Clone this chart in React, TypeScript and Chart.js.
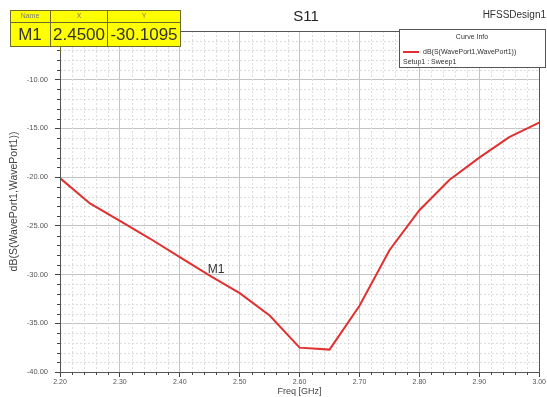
import { useEffect, useRef } from "react";
import { Chart, registerables } from "chart.js";

Chart.register(...registerables);

const freqs = [2.2, 2.25, 2.3, 2.35, 2.4, 2.45, 2.5, 2.55, 2.6, 2.65, 2.7, 2.75, 2.8, 2.85, 2.9, 2.95, 3.0];
const s11 = [-20.1, -22.7, -24.5, -26.3, -28.2, -30.1, -31.9, -34.2, -37.5, -37.7, -33.2, -27.5, -23.4, -20.3, -18.0, -15.9, -14.4];

const markerName = "M1";
const markerX = 2.45;
const markerY = -30.1095;

const titleText = "S11";
const designText = "HFSSDesign1";
const legendTitle = "Curve Info";
const seriesName = "dB(S(WavePort1,WavePort1))";
const setupName = "Setup1 : Sweep1";
const xTitle = "Freq [GHz]";
const yTitle = "dB(S(WavePort1,WavePort1))";

const FONT = "'Liberation Sans', Arial, sans-serif";

const overlayPlugin = {
  id: "overlay",
  beforeDatasetsDraw(chart: any) {
    const { ctx, chartArea: a, scales } = chart;
    const xs = scales.x;
    const ys = scales.y;
    ctx.save();
    // minor grid dotted
    ctx.strokeStyle = "#dddddd";
    ctx.lineWidth = 1;
    ctx.setLineDash([2, 2]);
    for (let i = 0; i <= 40; i++) {
      if (i % 5 === 0) continue;
      const v = 2.2 + i * 0.02;
      const px = Math.round(xs.getPixelForValue(v)) + 0.5;
      ctx.beginPath();
      ctx.moveTo(px, a.top);
      ctx.lineTo(px, a.bottom);
      ctx.stroke();
    }
    for (let v = -40; v <= -5; v++) {
      if (v % 5 === 0) continue;
      const py = Math.round(ys.getPixelForValue(v)) + 0.5;
      ctx.beginPath();
      ctx.moveTo(a.left, py);
      ctx.lineTo(a.right, py);
      ctx.stroke();
    }
    ctx.setLineDash([]);
    // minor ticks
    ctx.strokeStyle = "#444";
    for (let i = 0; i <= 40; i++) {
      if (i % 5 === 0) continue;
      const v = 2.2 + i * 0.02;
      const px = Math.round(xs.getPixelForValue(v)) + 0.5;
      ctx.beginPath();
      ctx.moveTo(px, a.bottom);
      ctx.lineTo(px, a.bottom + 3);
      ctx.stroke();
    }
    for (let v = -40; v <= -5; v++) {
      if (v % 5 === 0) continue;
      const py = Math.round(ys.getPixelForValue(v)) + 0.5;
      ctx.beginPath();
      ctx.moveTo(a.left - 3, py);
      ctx.lineTo(a.left, py);
      ctx.stroke();
    }
    ctx.restore();
  },
  afterDraw(chart: any) {
    const { ctx, chartArea: a, scales } = chart;
    ctx.save();
    // plot border
    ctx.strokeStyle = "#555";
    ctx.lineWidth = 1;
    ctx.strokeRect(Math.round(a.left) + 0.5, Math.round(a.top) + 0.5, Math.round(a.right - a.left), Math.round(a.bottom - a.top));

    // title
    ctx.fillStyle = "#222";
    ctx.font = `15px ${FONT}`;
    ctx.textAlign = "center";
    ctx.textBaseline = "middle";
    ctx.fillText(titleText, 306, 17);
    ctx.font = `10px ${FONT}`;
    ctx.textAlign = "right";
    ctx.fillStyle = "#333";
    ctx.fillText(designText, 546, 15);

    // marker label on curve
    const mx = scales.x.getPixelForValue(markerX);
    const my = scales.y.getPixelForValue(markerY);
    ctx.font = `12px ${FONT}`;
    ctx.fillStyle = "#333";
    ctx.textAlign = "left";
    ctx.textBaseline = "alphabetic";
    ctx.fillText(markerName, mx - 2, my - 3);

    // marker table
    const bx = 10, by = 10, bw = 170, bh1 = 12, bh2 = 24;
    ctx.fillStyle = "#ffff00";
    ctx.fillRect(bx, by, bw, bh1 + bh2);
    ctx.strokeStyle = "#6b6b2a";
    ctx.lineWidth = 1;
    ctx.strokeRect(bx + 0.5, by + 0.5, bw, bh1 + bh2);
    ctx.beginPath();
    ctx.moveTo(bx, by + bh1 + 0.5);
    ctx.lineTo(bx + bw, by + bh1 + 0.5);
    ctx.moveTo(50.5, by);
    ctx.lineTo(50.5, by + bh1 + bh2);
    ctx.moveTo(107.5, by);
    ctx.lineTo(107.5, by + bh1 + bh2);
    ctx.stroke();
    // anchor line
    ctx.beginPath();
    ctx.moveTo(60.5, by + bh1 + bh2);
    ctx.lineTo(60.5, by + bh1 + bh2 + 7);
    ctx.stroke();
    ctx.fillStyle = "#777";
    ctx.font = `7px ${FONT}`;
    ctx.textAlign = "center";
    ctx.textBaseline = "middle";
    ctx.fillText("Name", 30, by + 6);
    ctx.fillText("X", 79, by + 6);
    ctx.fillText("Y", 144, by + 6);
    ctx.fillStyle = "#333";
    ctx.font = `17px ${FONT}`;
    ctx.fillText(markerName, 30, by + bh1 + 13);
    ctx.fillText(markerX.toFixed(4), 79, by + bh1 + 13);
    ctx.fillText(markerY.toFixed(4), 144, by + bh1 + 13);

    // legend box
    const lx = 399, ly = 29, lw = 146, lh = 38;
    ctx.fillStyle = "#fff";
    ctx.fillRect(lx, ly, lw, lh);
    ctx.strokeStyle = "#555";
    ctx.lineWidth = 1;
    ctx.strokeRect(lx + 0.5, ly + 0.5, lw, lh);
    ctx.fillStyle = "#333";
    ctx.font = `7px ${FONT}`;
    ctx.textAlign = "center";
    ctx.fillText(legendTitle, lx + lw / 2, ly + 8);
    ctx.strokeStyle = "#e0302f";
    ctx.lineWidth = 2;
    ctx.beginPath();
    ctx.moveTo(lx + 4, ly + 23);
    ctx.lineTo(lx + 20, ly + 23);
    ctx.stroke();
    ctx.textAlign = "left";
    ctx.fillText(seriesName, lx + 24, ly + 23);
    ctx.fillText(setupName, lx + 4, ly + 33);
    ctx.restore();
  },
};

export default function App() {
  const ref = useRef<HTMLCanvasElement>(null);
  useEffect(() => {
    const chart = new Chart(ref.current!, {
      type: "line",
      data: {
        datasets: [
          {
            data: freqs.map((f, i) => ({ x: f, y: s11[i] })),
            borderColor: "#e0302f",
            borderWidth: 2,
            pointRadius: 0,
            tension: 0,
            fill: false,
          },
        ],
      },
      options: {
        animation: false,
        responsive: false,
        layout: { padding: { top: 31, right: 6, left: 0, bottom: 0 } },
        plugins: { legend: { display: false }, tooltip: { enabled: false }, title: { display: false } },
        scales: {
          x: {
            type: "linear",
            min: 2.2,
            max: 3.0,
            afterFit: (s: any) => { s.height = 25; },
            afterBuildTicks: (s: any) => {
              s.ticks = freqs.filter((_, i) => i % 2 === 0).map((v) => ({ value: v }));
            },
            ticks: {
              callback: (v: any) => Number(v).toFixed(2),
              font: { size: 7, family: FONT },
              color: "#555",
              padding: 1,
              maxRotation: 0,
            },
            grid: { color: "#c4c4c4", tickColor: "#444", tickLength: 5 },
            border: { color: "#555" },
            title: { display: true, text: xTitle, font: { size: 9, family: FONT }, color: "#444", padding: 0 },
          },
          y: {
            type: "linear",
            min: -40,
            max: -5,
            afterFit: (s: any) => { s.width = 60; },
            ticks: {
              stepSize: 5,
              callback: (v: any) => (Number(v) === -5 ? "" : Number(v).toFixed(2)),
              font: { size: 7.5, family: FONT },
              color: "#555",
              padding: 7,
            },
            grid: { color: "#c4c4c4", tickColor: "#444", tickLength: 5 },
            border: { color: "#555" },
            title: { display: true, text: yTitle, font: { size: 10.5, family: FONT }, color: "#444", padding: 8 },
          },
        },
      },
      plugins: [overlayPlugin],
    } as any);
    return () => chart.destroy();
  }, []);
  return (
    <div style={{ position: "fixed", left: 0, top: 0, width: 547, height: 397, background: "#fff" }}>
      <canvas ref={ref} width={547} height={397} />
    </div>
  );
}
